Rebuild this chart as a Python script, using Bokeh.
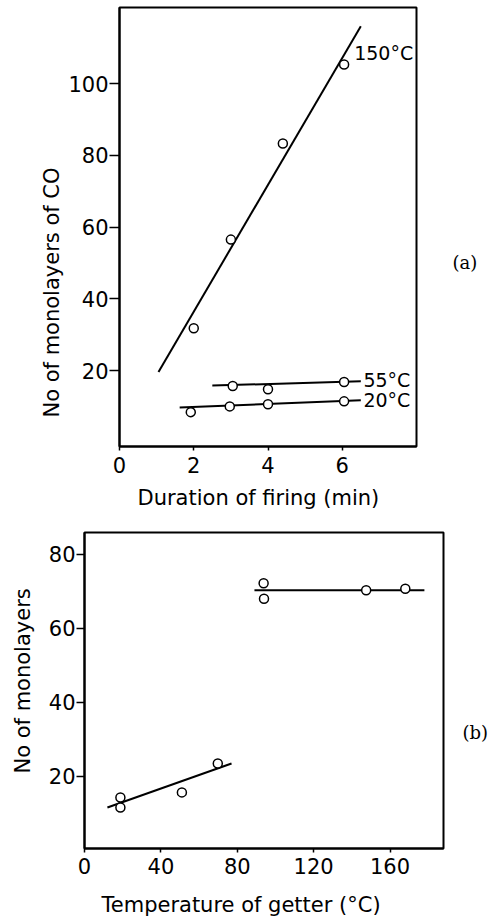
from bokeh.plotting import figure
from bokeh.models import Range1d, FixedTicker, Title, Label, LinearAxis
from bokeh.embed import file_html
from bokeh.resources import INLINE

# ---------------- data: panel (a) ----------------
t150_x = [2.0, 3.0, 4.4, 6.05]
t150_y = [31.8, 56.5, 83.3, 105.3]
fit150_x = [1.05, 6.5]
fit150_y = [19.6, 116.0]

t55_x = [3.05, 4.0, 6.05]
t55_y = [15.7, 14.8, 16.8]
fit55_x = [2.5, 6.5]
fit55_y = [15.8, 17.0]

t20_x = [1.92, 2.97, 4.0, 6.05]
t20_y = [8.4, 10.0, 10.6, 11.4]
fit20_x = [1.62, 6.5]
fit20_y = [9.7, 11.7]

a_xticks = [0, 2, 4, 6]
a_yticks = [20, 40, 60, 80, 100]

# ---------------- data: panel (b) ----------------
b_low_x = [18.8, 18.8, 51.0, 69.8]
b_low_y = [14.3, 11.6, 15.7, 23.5]
b_lowfit_x = [12.0, 77.0]
b_lowfit_y = [11.6, 23.5]

b_high_x = [93.8, 94.0, 147.5, 168.0]
b_high_y = [72.2, 68.0, 70.3, 70.7]
b_highfit_x = [89.0, 178.0]
b_highfit_y = [70.3, 70.3]

b_xticks = [0, 40, 80, 120, 160]
b_yticks = [20, 40, 60, 80]

SANS = "DejaVu Sans"
SERIF = "DejaVu Serif"


def style(p, xticks, yticks, xstand, ystand, yout):
    p.outline_line_color = "black"
    p.outline_line_width = 2
    p.outline_line_alpha = 1
    p.xgrid.visible = False
    p.ygrid.visible = False
    p.background_fill_color = "white"
    p.border_fill_color = "white"
    p.xaxis.ticker = FixedTicker(ticks=xticks)
    p.yaxis.ticker = FixedTicker(ticks=yticks)
    for ax in (p.xaxis[0], p.yaxis[0]):
        ax.axis_line_color = "black"
        ax.axis_line_width = 2
        ax.major_tick_line_color = "black"
        ax.major_tick_line_width = 1.5
        ax.major_tick_in = 0
        ax.minor_tick_line_color = None
        ax.major_label_text_font = SANS
        ax.major_label_text_font_size = "21px"
        ax.major_label_text_color = "black"
    p.xaxis.major_tick_out = 4
    p.yaxis.major_tick_out = yout
    p.xaxis.major_label_standoff = xstand
    p.yaxis.major_label_standoff = ystand


def side_tag(p, text, at, standoff):
    ax = LinearAxis(ticker=FixedTicker(ticks=[at]), major_label_overrides={at: text},
                    axis_line_color=None, major_tick_line_color=None,
                    minor_tick_line_color=None, major_tick_in=0, major_tick_out=0,
                    minor_tick_in=0, minor_tick_out=0, major_label_standoff=standoff,
                    major_label_text_font=SERIF, major_label_text_font_size="18px",
                    major_label_text_color="black")
    p.add_layout(ax, "right")


# ---------------- figure (a) ----------------
pa = figure(width=491, height=524, output_backend="svg", toolbar_location=None,
            x_range=Range1d(0, 8), y_range=Range1d(-1.18, 121.2),
            min_border_left=119, min_border_right=75,
            min_border_top=7, min_border_bottom=78)
style(pa, a_xticks, a_yticks, 6, 1, 10)

for fx, fy in ((fit150_x, fit150_y), (fit55_x, fit55_y), (fit20_x, fit20_y)):
    pa.line(fx, fy, line_color="black", line_width=2)
for xs, ys in ((t150_x, t150_y), (t55_x, t55_y), (t20_x, t20_y)):
    pa.scatter(xs, ys, marker="circle", size=9, fill_color="white",
               line_color="black", line_width=1.5)

for txt, x, y in (("150°C", 6.32, 108.5), ("55°C", 6.57, 17.3), ("20°C", 6.57, 11.7)):
    pa.add_layout(Label(x=x, y=y, text=txt, text_font=SANS, text_font_size="19px",
                        text_align="left", text_baseline="middle", text_color="black"))

pa.add_layout(Title(text="Duration of firing (min)", text_font=SANS, text_font_size="21px",
                    text_font_style="normal", align="left", offset=18, standoff=17,
                    text_color="black"), "below")
pa.add_layout(Title(text="No of monolayers of CO", text_font=SANS, text_font_size="21px",
                    text_font_style="normal", align="left", offset=29, standoff=4,
                    text_color="black"), "left")
side_tag(pa, "(a)", 50, 36)

# ---------------- figure (b) ----------------
pb = figure(width=491, height=395, output_backend="svg", toolbar_location=None,
            x_range=Range1d(0, 188), y_range=Range1d(0.54, 85.9),
            min_border_left=84, min_border_right=47,
            min_border_top=8, min_border_bottom=71)
style(pb, b_xticks, b_yticks, 5, 1, 8)
# small invisible gap between the tick labels and the axis title
pb.xaxis.axis_label = " "
pb.xaxis.axis_label_text_font_size = "1px"
pb.xaxis.axis_label_standoff = 10

for fx, fy in ((b_lowfit_x, b_lowfit_y), (b_highfit_x, b_highfit_y)):
    pb.line(fx, fy, line_color="black", line_width=2)
for xs, ys in ((b_low_x, b_low_y), (b_high_x, b_high_y)):
    pb.scatter(xs, ys, marker="circle", size=9, fill_color="white",
               line_color="black", line_width=1.5)

pb.add_layout(Title(text="Temperature of getter (°C)", text_font=SANS, text_font_size="21px",
                    text_font_style="normal", align="left", offset=17, standoff=0,
                    text_color="black"), "below")
pb.add_layout(Title(text="No of monolayers", text_font=SANS, text_font_size="21px",
                    text_font_style="normal", align="left", offset=75, standoff=17,
                    vertical_align="top", text_color="black"), "left")
side_tag(pb, "(b)", 32, 19)

open("out.html", "w").write(file_html([pa, pb], INLINE))
